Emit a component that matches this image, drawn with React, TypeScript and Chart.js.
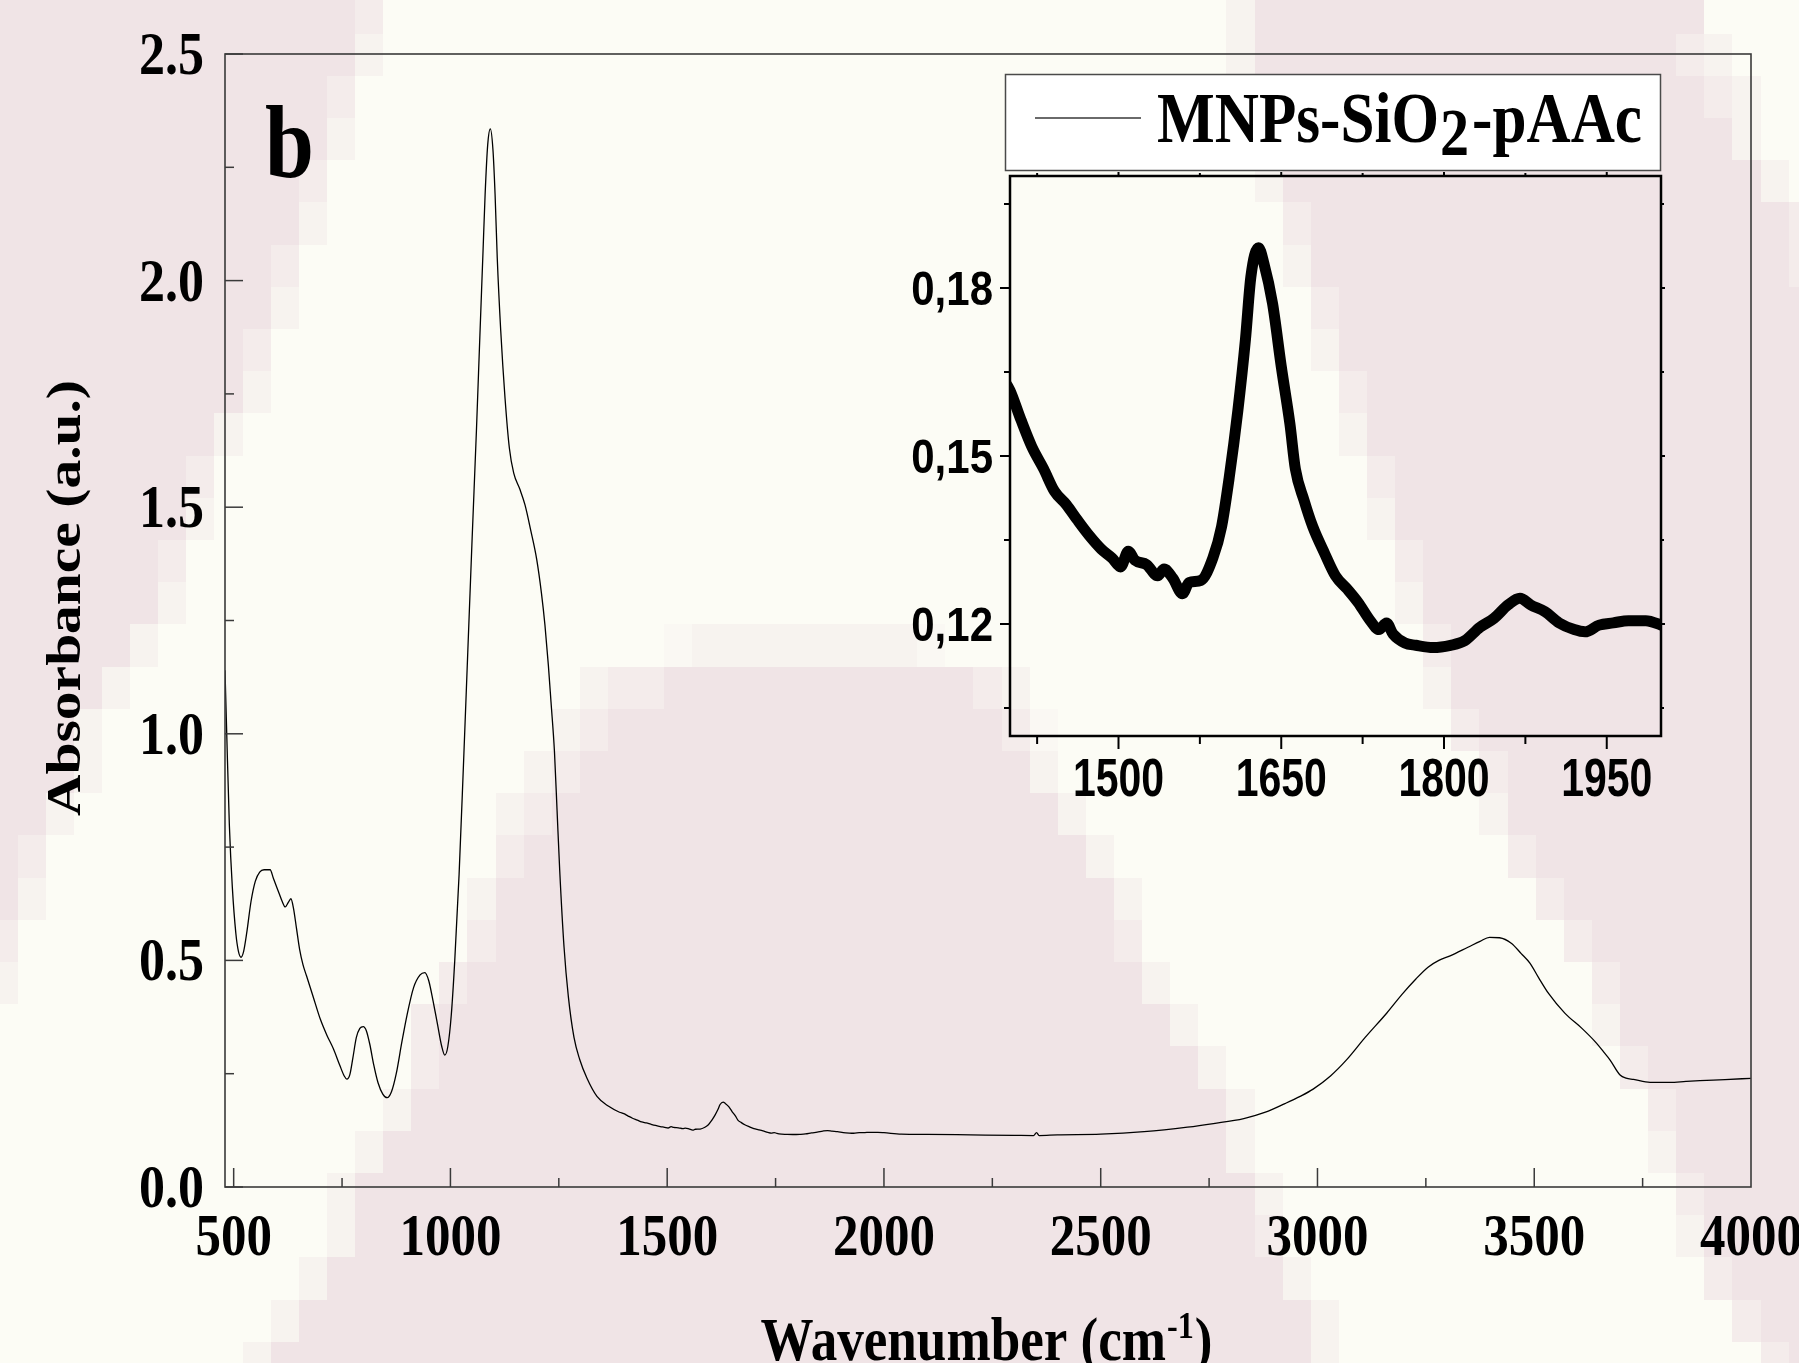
import React, { useEffect, useRef } from 'react';
import { Chart, registerables } from 'chart.js';

Chart.register(...registerables);

// ---------------- data ----------------
const wavenumbers = [
  480, 484, 490, 497, 505, 511, 517, 523, 530, 540, 550, 560, 570, 584, 592, 602, 612, 619, 626, 632,
  638, 645, 652, 660, 668, 683, 700, 715, 730, 745, 755, 761, 768, 775, 783, 791, 799, 806, 814, 823,
  833, 844, 854, 864, 875, 888, 900, 915, 930, 941, 950, 960, 970, 980, 987, 994, 1002, 1010, 1020, 1030,
  1040, 1050, 1060, 1068, 1075, 1080, 1086, 1092, 1098, 1103, 1108, 1116, 1126, 1136, 1146, 1160, 1172, 1185, 1199, 1210,
  1218, 1226, 1232, 1240, 1246, 1252, 1262, 1272, 1285, 1298, 1315, 1338, 1365, 1390,
  1400, 1410, 1420, 1431, 1441, 1452, 1462, 1473, 1484, 1494, 1502, 1509, 1515, 1526, 1536, 1542, 1550, 1559, 1565, 1576,
  1587, 1595, 1602, 1610, 1617, 1622, 1629, 1634, 1642, 1650, 1658, 1663, 1671, 1679, 1690, 1700, 1711, 1721, 1732, 1740,
  1747, 1753, 1764, 1774, 1790, 1806, 1819, 1833, 1846, 1859, 1870, 1880, 1893, 1906, 1920, 1930, 1943, 1956, 1970, 1986,
  2000, 2040, 2100, 2200, 2300, 2345, 2352, 2358, 2400, 2500, 2600, 2700, 2760, 2830, 2880, 2925, 2960, 2990, 3030, 3068,
  3110, 3160, 3195, 3227, 3255, 3280, 3306, 3347, 3375, 3397, 3420, 3447, 3470, 3490, 3510, 3533, 3571, 3610, 3644, 3660,
  3675, 3698, 3712, 3729, 3767, 3813, 3850, 3882, 3940, 4000,
];
const absorbance = [
  1.14, 1.0, 0.8, 0.66, 0.56, 0.52, 0.507, 0.52, 0.56, 0.63, 0.675, 0.695, 0.7, 0.7, 0.68, 0.655, 0.63, 0.618, 0.628, 0.636,
  0.615, 0.57, 0.525, 0.49, 0.466, 0.421, 0.37, 0.335, 0.305, 0.268, 0.245, 0.238, 0.248, 0.285, 0.33, 0.35, 0.354, 0.345, 0.315, 0.27,
  0.23, 0.205, 0.197, 0.21, 0.25, 0.32, 0.38, 0.44, 0.468, 0.473, 0.455, 0.41, 0.36, 0.31, 0.291, 0.31, 0.38, 0.5, 0.69, 0.93,
  1.18, 1.43, 1.67, 1.88, 2.06, 2.19, 2.3, 2.335, 2.29, 2.19, 2.05, 1.89, 1.74, 1.63, 1.575, 1.54, 1.505, 1.45, 1.385, 1.31,
  1.24, 1.15, 1.07, 0.96, 0.83, 0.7, 0.53, 0.42, 0.33, 0.282, 0.24, 0.2, 0.178, 0.165,
  0.1617, 0.1565, 0.1517, 0.1477, 0.1437, 0.1413, 0.1386, 0.1358, 0.1334, 0.1318, 0.1302, 0.133, 0.1314, 0.1306, 0.1286, 0.1298, 0.1282, 0.1254, 0.1274, 0.1278,
  0.1318, 0.1374, 0.1461, 0.1581, 0.1708, 0.182, 0.1872, 0.1844, 0.1772, 0.166, 0.1557, 0.1477, 0.1421, 0.1374, 0.1326, 0.1286, 0.1262, 0.1238, 0.1206, 0.119,
  0.1202, 0.1182, 0.1166, 0.1162, 0.1158, 0.1162, 0.117, 0.1194, 0.121, 0.1234, 0.1246, 0.1234, 0.1222, 0.1202, 0.119, 0.1186, 0.1198, 0.1202, 0.1206, 0.1206,
  0.1198, 0.1165, 0.116, 0.115, 0.114, 0.1135, 0.12, 0.1135, 0.115, 0.1165, 0.122, 0.132, 0.14, 0.151, 0.165, 0.184, 0.2, 0.216, 0.245, 0.2815,
  0.33, 0.384, 0.425, 0.459, 0.485, 0.5, 0.51, 0.529, 0.542, 0.551, 0.55, 0.538, 0.515, 0.494, 0.462, 0.427, 0.383, 0.35, 0.317, 0.298,
  0.28, 0.247, 0.24, 0.2376, 0.231, 0.231, 0.233, 0.2346, 0.237, 0.2398,
];

const seriesName = 'MNPs-SiO2-pAAc';
const seriesNameParts = ['MNPs-SiO', '2', '-pAAc'];
const panelLetter = 'b';
const xTitleParts = ['Wavenumber (cm', '-1', ')'];
const yTitle = 'Absorbance (a.u.)';

const xTickValues = [500, 1000, 1500, 2000, 2500, 3000, 3500, 4000];
const xTickLabels = ['500', '1000', '1500', '2000', '2500', '3000', '3500', '4000'];
const xMinorTicks = [750, 1250, 1750, 2250, 2750, 3250, 3750];
const yTickValues = [0, 0.5, 1.0, 1.5, 2.0, 2.5];
const yTickLabels = ['0.0', '0.5', '1.0', '1.5', '2.0', '2.5'];
const yMinorTicks = [0.25, 0.75, 1.25, 1.75, 2.25];

const insetXTickValues = [1500, 1650, 1800, 1950];
const insetXTickLabels = ['1500', '1650', '1800', '1950'];
const insetXMinorTicks = [1425, 1575, 1725, 1875];
const insetYTickValues = [0.12, 0.15, 0.18];
const insetYTickLabels = ['0,12', '0,15', '0,18'];
const insetYMinorTicks = [0.105, 0.135, 0.165, 0.195];

// ---------------- background decoration (blocky pink/cream pattern) ----------------
const CREAM = [252, 252, 245];
const PINK = [240, 228, 230];
const LEVEL_ALPHA = [0, 0.15, 0.38, 0.68, 1];
const COL0 = 17.7, CW = 28.11, ROW0 = 33.5, RH = 42.2;
const bgRows: number[][][] = [
  [[0, 12, 4], [13, 13, 3], [44, 44, 2], [45, 60, 4]],
  [[0, 12, 4], [13, 13, 2], [44, 44, 2], [45, 59, 4], [60, 60, 3], [61, 61, 2]],
  [[0, 11, 4], [12, 12, 3], [45, 45, 3], [46, 60, 4], [61, 61, 3], [62, 62, 2]],
  [[0, 11, 4], [12, 12, 2], [45, 45, 2], [46, 61, 4], [62, 62, 2]],
  [[0, 10, 4], [11, 11, 3], [45, 45, 2], [46, 62, 4], [63, 63, 2]],
  [[0, 10, 4], [11, 11, 2], [46, 46, 3], [47, 63, 4], [64, 64, 3]],
  [[0, 9, 4], [10, 10, 3], [46, 46, 2], [47, 63, 4], [64, 64, 3]],
  [[0, 9, 4], [10, 10, 2], [47, 47, 3], [48, 64, 4]],
  [[0, 8, 4], [9, 9, 3], [47, 47, 2], [48, 64, 4]],
  [[0, 8, 4], [9, 9, 2], [48, 48, 3], [49, 64, 4]],
  [[0, 7, 4], [8, 8, 2], [48, 48, 2], [49, 64, 4]],
  [[0, 6, 4], [7, 7, 3], [49, 49, 3], [50, 64, 4]],
  [[0, 6, 4], [7, 7, 2], [49, 49, 2], [50, 64, 4]],
  [[0, 5, 4], [6, 6, 3], [50, 50, 3], [51, 64, 4]],
  [[0, 5, 4], [6, 6, 2], [50, 50, 2], [51, 64, 4]],
  [[0, 4, 4], [5, 5, 2], [24, 24, 1], [25, 32, 2], [33, 33, 1], [51, 51, 3], [52, 64, 4]],
  [[0, 3, 4], [4, 4, 2], [21, 21, 2], [22, 23, 3], [24, 34, 4], [35, 35, 3], [36, 36, 2], [51, 51, 2], [52, 64, 4]],
  [[0, 2, 4], [3, 3, 2], [20, 20, 2], [21, 21, 3], [22, 35, 4], [36, 36, 3], [37, 37, 1], [52, 52, 3], [53, 64, 4]],
  [[0, 2, 4], [3, 3, 2], [19, 19, 2], [20, 20, 3], [21, 36, 4], [37, 37, 2], [53, 53, 3], [54, 64, 4]],
  [[0, 1, 4], [2, 2, 2], [18, 18, 2], [19, 19, 3], [20, 37, 4], [38, 38, 2], [53, 53, 2], [54, 64, 4]],
  [[0, 0, 4], [1, 1, 3], [18, 18, 3], [19, 38, 4], [39, 39, 2], [54, 54, 3], [55, 64, 4]],
  [[0, 0, 4], [1, 1, 2], [17, 17, 2], [18, 39, 4], [40, 40, 2], [55, 55, 3], [56, 64, 4]],
  [[0, 0, 3], [17, 17, 3], [18, 39, 4], [40, 40, 3], [56, 56, 3], [57, 64, 4]],
  [[0, 0, 2], [16, 16, 3], [17, 40, 4], [41, 41, 2], [57, 57, 3], [58, 64, 4]],
  [[15, 15, 3], [16, 41, 4], [42, 42, 2], [57, 57, 2], [58, 64, 4]],
  [[15, 15, 3], [16, 42, 4], [43, 43, 2], [58, 58, 3], [59, 64, 4]],
  [[14, 14, 2], [15, 43, 4], [44, 44, 2], [59, 59, 3], [60, 64, 4]],
  [[13, 13, 2], [14, 43, 4], [44, 44, 2], [59, 59, 2], [60, 64, 4]],
  [[12, 12, 2], [13, 44, 4], [45, 45, 2], [60, 60, 3], [61, 64, 4]],
  [[12, 12, 2], [13, 44, 4], [45, 45, 3], [60, 60, 2], [61, 64, 4]],
  [[11, 11, 2], [12, 45, 4], [46, 46, 2], [61, 61, 3], [62, 64, 4]],
  [[10, 10, 2], [11, 46, 4], [47, 47, 2], [62, 62, 3], [63, 64, 4]],
  [[9, 9, 2], [10, 46, 4], [47, 47, 2], [63, 63, 3], [64, 64, 4]],
];

function mixColor(level: number) {
  const a = LEVEL_ALPHA[level];
  const c = CREAM.map((v, i) => Math.round(v + (PINK[i] - v) * a));
  return `rgb(${c[0]},${c[1]},${c[2]})`;
}

const SERIF = '"Liberation Serif", "Times New Roman", serif';
const SANS = '"Liberation Sans", Arial, sans-serif';

function drawText(ctx: CanvasRenderingContext2D, s: string, x: number, y: number, font: string,
  sy: number, align: CanvasTextAlign = 'left', sx = 1) {
  ctx.save();
  ctx.translate(x, y);
  ctx.scale(sx, sy);
  ctx.font = font;
  ctx.textAlign = align;
  ctx.textBaseline = 'alphabetic';
  ctx.fillStyle = '#000';
  ctx.fillText(s, 0, 0);
  ctx.restore();
}

function seg(ctx: CanvasRenderingContext2D, x1: number, y1: number, x2: number, y2: number) {
  ctx.beginPath();
  ctx.moveTo(x1, y1);
  ctx.lineTo(x2, y2);
  ctx.stroke();
}

const backgroundPlugin = {
  id: 'bgPattern',
  beforeDraw(chart: any) {
    const ctx = chart.ctx as CanvasRenderingContext2D;
    ctx.save();
    ctx.fillStyle = mixColor(0);
    ctx.fillRect(0, 0, chart.width, chart.height);
    bgRows.forEach((spans, j) => {
      const y0 = Math.round(ROW0 + (j - 1) * RH);
      const y1 = Math.round(ROW0 + j * RH);
      spans.forEach(([c0, c1, l]) => {
        const x0 = Math.round(COL0 + (c0 - 1) * CW);
        const x1 = Math.round(COL0 + c1 * CW);
        ctx.fillStyle = mixColor(l);
        ctx.fillRect(x0, y0, x1 - x0, y1 - y0);
      });
    });
    ctx.restore();
  },
};

const mainDeco = {
  id: 'mainDeco',
  afterDraw(chart: any) {
    const ctx = chart.ctx as CanvasRenderingContext2D;
    const a = chart.chartArea;
    const xs = chart.scales.x;
    const ys = chart.scales.y;
    ctx.save();
    ctx.strokeStyle = '#3a3a3a';
    ctx.lineWidth = 1.6;
    ctx.strokeRect(a.left, a.top, a.right - a.left, a.bottom - a.top);
    // inward ticks
    ctx.lineWidth = 1.5;
    yTickValues.forEach(v => { const p = ys.getPixelForValue(v); seg(ctx, a.left, p, a.left + 18, p); });
    yMinorTicks.forEach(v => { const p = ys.getPixelForValue(v); seg(ctx, a.left, p, a.left + 9, p); });
    xTickValues.forEach(v => { const p = xs.getPixelForValue(v); if (p < a.right - 2) seg(ctx, p, a.bottom, p, a.bottom - 19); });
    xMinorTicks.forEach(v => { const p = xs.getPixelForValue(v); seg(ctx, p, a.bottom, p, a.bottom - 9); });

    // tick labels
    const tickFont = `bold 52px ${SERIF}`;
    yTickValues.forEach((v, i) => {
      const p = ys.getPixelForValue(v);
      drawText(ctx, yTickLabels[i], 204, p + 20, tickFont, 1.16, 'right');
    });
    const xFont = `bold 51px ${SERIF}`;
    xTickValues.forEach((v, i) => {
      const p = xs.getPixelForValue(v);
      drawText(ctx, xTickLabels[i], p, 1255, xFont, 1.14, 'center');
    });

    // y title (rotated)
    ctx.save();
    ctx.font = `bold 48px ${SERIF}`;
    const yw = ctx.measureText(yTitle).width;
    ctx.translate(80, 598);
    ctx.rotate(-Math.PI / 2);
    ctx.scale(436 / yw, 1);
    ctx.textAlign = 'center';
    ctx.textBaseline = 'alphabetic';
    ctx.fillStyle = '#000';
    ctx.fillText(yTitle, 0, 0);
    ctx.restore();

    // x title with superscript
    const mainF = `bold 56px ${SERIF}`;
    const supF = `bold 34px ${SERIF}`;
    ctx.font = mainF;
    const w1 = ctx.measureText(xTitleParts[0]).width;
    const w3 = ctx.measureText(xTitleParts[2]).width;
    ctx.font = supF;
    const w2 = ctx.measureText(xTitleParts[1]).width;
    const total = w1 + w2 + w3 + 2;
    const sx = 452 / total;
    const x0 = 986.5 - (total * sx) / 2;
    drawText(ctx, xTitleParts[0], x0, 1360, mainF, 1.1, 'left', sx);
    drawText(ctx, xTitleParts[1], x0 + w1 * sx + 1, 1338, supF, 1.1, 'left', sx);
    drawText(ctx, xTitleParts[2], x0 + (w1 + w2 + 2) * sx, 1360, mainF, 1.1, 'left', sx);

    // panel letter
    drawText(ctx, panelLetter, 265, 177, `bold 88px ${SERIF}`, 1.18, 'left');

    // legend box
    ctx.fillStyle = '#ffffff';
    ctx.fillRect(1005, 74, 656, 97);
    ctx.strokeStyle = '#4a4a4a';
    ctx.lineWidth = 1.5;
    ctx.strokeRect(1005.5, 74.5, 655, 96);
    ctx.strokeStyle = '#6a6a6a';
    ctx.lineWidth = 2;
    seg(ctx, 1035, 118, 1141, 118);
    const lf = `bold 61px ${SERIF}`;
    const lf2 = `bold 58px ${SERIF}`;
    ctx.font = lf;
    const p1 = ctx.measureText(seriesNameParts[0]).width;
    const p3 = ctx.measureText(seriesNameParts[2]).width;
    ctx.font = lf2;
    const p2 = ctx.measureText(seriesNameParts[1]).width;
    const lt = p1 + p2 + p3 + 4;
    const lsx = 485 / lt;
    const lx = 1157;
    drawText(ctx, seriesNameParts[0], lx, 142, lf, 1.17, 'left', lsx);
    drawText(ctx, seriesNameParts[1], lx + (p1 + 1) * lsx, 155, lf2, 1.17, 'left', lsx);
    drawText(ctx, seriesNameParts[2], lx + (p1 + p2 + 4) * lsx, 142, lf, 1.17, 'left', lsx);
    ctx.restore();
  },
};

const insetDeco = {
  id: 'insetDeco',
  afterDraw(chart: any) {
    const ctx = chart.ctx as CanvasRenderingContext2D;
    const a = chart.chartArea;
    const xs = chart.scales.x;
    const ys = chart.scales.y;
    ctx.save();
    ctx.strokeStyle = '#000';
    ctx.lineWidth = 2.5;
    ctx.strokeRect(a.left, a.top, a.right - a.left, a.bottom - a.top);
    ctx.lineWidth = 2;
    insetXTickValues.forEach(v => {
      const p = xs.getPixelForValue(v);
      seg(ctx, p, a.bottom, p, a.bottom + 13);
      seg(ctx, p, a.top, p, a.top - 4);
    });
    insetXMinorTicks.forEach(v => {
      const p = xs.getPixelForValue(v);
      seg(ctx, p, a.bottom, p, a.bottom + 8);
      seg(ctx, p, a.top, p, a.top - 3);
    });
    insetYTickValues.forEach(v => {
      const p = ys.getPixelForValue(v);
      seg(ctx, a.left, p, a.left - 10, p);
      seg(ctx, a.right, p, a.right + 4, p);
    });
    insetYMinorTicks.forEach(v => {
      const p = ys.getPixelForValue(v);
      seg(ctx, a.left, p, a.left - 6, p);
      seg(ctx, a.right, p, a.right + 3, p);
    });
    const fx = `bold 41px ${SANS}`;
    insetXTickValues.forEach((v, i) => {
      drawText(ctx, insetXTickLabels[i], xs.getPixelForValue(v), 796, fx, 1.3, 'center');
    });
    const fy = `bold 42px ${SANS}`;
    insetYTickValues.forEach((v, i) => {
      drawText(ctx, insetYTickLabels[i], 993, ys.getPixelForValue(v) + 17, fy, 1.15, 'right');
    });
    ctx.restore();
  },
};

const W = 1799;
const H = 1363;

export default function App() {
  const mainRef = useRef<HTMLCanvasElement>(null);
  const insetRef = useRef<HTMLCanvasElement>(null);

  useEffect(() => {
    document.body.style.margin = '0';
    const points = wavenumbers.map((w, i) => ({ x: w, y: absorbance[i] }));
    const common = {
      responsive: false,
      animation: false as const,
      devicePixelRatio: 1,
      events: [] as any[],
      plugins: { legend: { display: false }, tooltip: { enabled: false } },
    };
    const main = new Chart(mainRef.current!, {
      type: 'line',
      data: {
        datasets: [{
          label: seriesName,
          data: points,
          borderColor: '#000',
          borderWidth: 1.3,
          pointRadius: 0,
          fill: false,
          cubicInterpolationMode: 'monotone',
        }],
      },
      options: {
        ...common,
        layout: { padding: { left: 0, top: 54, right: 48, bottom: 0 } },
        scales: {
          x: {
            type: 'linear', min: 480, max: 4000,
            grid: { display: false }, border: { display: false }, ticks: { display: false },
            afterFit: (s: any) => { s.height = 176; },
          },
          y: {
            type: 'linear', min: 0, max: 2.5,
            grid: { display: false }, border: { display: false }, ticks: { display: false },
            afterFit: (s: any) => { s.width = 225; },
          },
        },
      } as any,
      plugins: [backgroundPlugin, mainDeco],
    });
    const inset = new Chart(insetRef.current!, {
      type: 'line',
      data: {
        datasets: [{
          label: seriesName,
          data: points,
          borderColor: '#000',
          borderWidth: 11,
          borderJoinStyle: 'round',
          borderCapStyle: 'round',
          pointRadius: 0,
          fill: false,
          clip: 0,
          cubicInterpolationMode: 'monotone',
        }],
      },
      options: {
        ...common,
        layout: { padding: { left: 1010, top: 176, right: W - 1661, bottom: H - 736 } },
        scales: {
          x: {
            type: 'linear', min: 1400, max: 2000,
            grid: { display: false }, border: { display: false }, ticks: { display: false },
            afterFit: (s: any) => { s.height = 0; },
          },
          y: {
            type: 'linear', min: 0.1, max: 0.2,
            grid: { display: false }, border: { display: false }, ticks: { display: false },
            afterFit: (s: any) => { s.width = 0; },
          },
        },
      } as any,
      plugins: [insetDeco],
    });
    return () => {
      main.destroy();
      inset.destroy();
    };
  }, []);

  return (
    <div style={{ position: 'fixed', left: 0, top: 0, width: W, height: H, overflow: 'hidden' }}>
      <canvas ref={mainRef} width={W} height={H} style={{ position: 'absolute', left: 0, top: 0, width: W, height: H }} />
      <canvas ref={insetRef} width={W} height={H} style={{ position: 'absolute', left: 0, top: 0, width: W, height: H }} />
    </div>
  );
}
